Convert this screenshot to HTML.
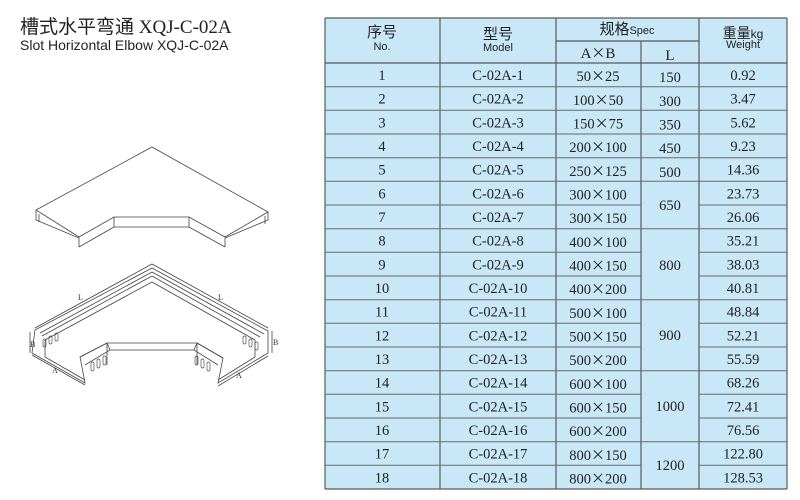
<!DOCTYPE html>
<html><head><meta charset="utf-8"><style>
html,body{margin:0;padding:0;background:#fff;width:800px;height:500px;overflow:hidden}
svg{display:block}
.t{font-family:"Liberation Serif","Noto Serif CJK SC",serif;font-size:14.5px;fill:#222;text-anchor:middle}
.h{font-family:"Liberation Sans","Noto Sans CJK SC",sans-serif;fill:#222;text-anchor:middle}
.x{font-family:"Noto Sans CJK SC",sans-serif;font-size:14px}
</style></head><body>
<svg width="800" height="500" viewBox="0 0 800 500" xmlns="http://www.w3.org/2000/svg">
<text x="20" y="33" style="font-family:'Liberation Serif','Noto Sans CJK SC',serif;font-size:19px;fill:#222">槽式水平弯通 XQJ-C-02A</text>
<text x="20" y="50" style="font-family:'Liberation Sans',sans-serif;font-size:14px;fill:#222">Slot Horizontal Elbow XQJ-C-02A</text>

<!-- cover -->
<g fill="none" stroke="#444" stroke-width="0.8">
<path d="M152,147 L268,212 L225,237 L189,217 L114,217 L79,237 L36,210 Z"/>
<path d="M268,212 L268,220 L225,238 L225,247"/>
<path d="M36,210 L36,220 L79,238 L79,247 M114,217 L114,227 L189,227 L189,217 M114,227 L79,247 M189,227 L225,247"/>
<path d="M39,214 L39,222 M265,216 L265,224"/>
</g>
<!-- tray -->
<g fill="none" stroke="#444" stroke-width="0.8">
<path d="M152,268 L268,331 L268,353 L218,383 L223,358 L197,343 L107,343 L80,357 L85,383 L32,353 L35,330 Z"/>
<path d="M152,272 L264,334 M152,282 L255,340 M152,276 L260,337 M152,272 L40,333 M152,282 L45,340 M152,276 L42,336"/>
<path d="M45,340 L45,357 L85,380 M255,340 L255,357 L218,380 M80,357 L107,343 L110,350 L85,365 M223,358 L197,343 L194,350 L218,365 M107,343 L107,365 M197,343 L197,365 M110,350 L194,350"/>
<path d="M32,355 L85,385 M218,386 L268,356 M30,332 L30,353 M272,331 L272,353 M35,328 L152,264 L268,328"/>
</g>
<g fill="none" stroke="#555" stroke-width="0.7">
<rect x="43" y="339" width="3" height="8" rx="1.5"/><rect x="49" y="336" width="3" height="8" rx="1.5"/><rect x="55" y="333" width="3" height="8" rx="1.5"/>
<rect x="243" y="336" width="3" height="8" rx="1.5"/><rect x="249" y="339" width="3" height="8" rx="1.5"/><rect x="255" y="342" width="3" height="8" rx="1.5"/>
<rect x="91" y="362" width="3" height="9" rx="1.5"/><rect x="97" y="359" width="3" height="9" rx="1.5"/><rect x="103" y="356" width="3" height="9" rx="1.5"/>
<rect x="195" y="356" width="3" height="9" rx="1.5"/><rect x="201" y="359" width="3" height="9" rx="1.5"/><rect x="207" y="362" width="3" height="9" rx="1.5"/>
</g>
<g style="font-family:'Liberation Serif',serif;font-size:8px;fill:#333">
<text x="78" y="300">L</text><text x="218" y="300">L</text><text x="30" y="347">B</text><text x="273" y="345">B</text><text x="236" y="378">A</text><text x="52" y="373">A</text>
</g>

<!-- table -->
<rect x="325" y="18" width="462" height="471" fill="#c8e7f7"/>
<g stroke="#5a5a5a" stroke-width="1.2">
<line x1="325" y1="18" x2="787" y2="18"/>
<line x1="325" y1="489" x2="787" y2="489"/>
<line x1="325" y1="18" x2="325" y2="489"/>
<line x1="787" y1="18" x2="787" y2="489"/>
<line x1="440" y1="18" x2="440" y2="489"/>
<line x1="556" y1="18" x2="556" y2="489"/>
<line x1="641" y1="41" x2="641" y2="489"/>
<line x1="699" y1="18" x2="699" y2="489"/>
<line x1="556" y1="41" x2="699" y2="41"/>
<line x1="325" y1="63" x2="787" y2="63"/>
</g>
<g stroke="#6a6a6a" stroke-width="1">
<path d="M325,86.7H641M699,86.7H787M325,110.3H641M699,110.3H787M325,134H641M699,134H787M325,157.7H641M699,157.7H787M325,181.3H641M699,181.3H787M325,205H641M699,205H787M325,228.7H641M699,228.7H787M325,252.3H641M699,252.3H787M325,276H641M699,276H787M325,299.7H641M699,299.7H787M325,323.3H641M699,323.3H787M325,347H641M699,347H787M325,370.7H641M699,370.7H787M325,394.3H641M699,394.3H787M325,418H641M699,418H787M325,441.7H641M699,441.7H787M325,465.3H641M699,465.3H787"/>
<path d="M641,86.7H699M641,110.3H699M641,134H699M641,157.7H699M641,181.3H699M641,228.7H699M641,299.7H699M641,370.7H699M641,441.7H699"/>
</g>
<text class="h" x="382" y="37" style="font-size:15px">序号</text>
<text class="h" x="382" y="50" style="font-size:11px">No.</text>
<text class="h" x="498" y="39" style="font-size:15px">型号</text>
<text class="h" x="498" y="51" style="font-size:11px">Model</text>
<text class="h" x="627" y="34" style="font-size:15px">规格<tspan style="font-size:11px">Spec</tspan></text>
<text class="t" x="598" y="58" style="font-size:15px">A<tspan class="x">×</tspan>B</text>
<text class="t" x="670" y="60" style="font-size:15px">L</text>
<text class="h" x="743" y="38" style="font-size:14px">重量<tspan style="font-size:12px">kg</tspan></text>
<text class="h" x="743" y="48" style="font-size:11px">Weight</text>

<g>
<text class="t" x="382" y="80">1</text><text class="t" x="498" y="80">C-02A-1</text><text class="t" x="598" y="81">50<tspan class="x">×</tspan>25</text><text class="t" x="670" y="82">150</text><text class="t" x="743" y="80">0.92</text>
<text class="t" x="382" y="103.7">2</text><text class="t" x="498" y="103.7">C-02A-2</text><text class="t" x="598" y="105">100<tspan class="x">×</tspan>50</text><text class="t" x="670" y="106">300</text><text class="t" x="743" y="103.7">3.47</text>
<text class="t" x="382" y="127.3">3</text><text class="t" x="498" y="127.3">C-02A-3</text><text class="t" x="598" y="128.5">150<tspan class="x">×</tspan>75</text><text class="t" x="670" y="129.5">350</text><text class="t" x="743" y="127.3">5.62</text>
<text class="t" x="382" y="151">4</text><text class="t" x="498" y="151">C-02A-4</text><text class="t" x="598" y="152">200<tspan class="x">×</tspan>100</text><text class="t" x="670" y="153">450</text><text class="t" x="743" y="151">9.23</text>
<text class="t" x="382" y="174.7">5</text><text class="t" x="498" y="174.7">C-02A-5</text><text class="t" x="598" y="176">250<tspan class="x">×</tspan>125</text><text class="t" x="670" y="177">500</text><text class="t" x="743" y="174.7">14.36</text>
<text class="t" x="382" y="198.3">6</text><text class="t" x="498" y="198.3">C-02A-6</text><text class="t" x="598" y="199.5">300<tspan class="x">×</tspan>100</text><text class="t" x="743" y="198.3">23.73</text>
<text class="t" x="382" y="222">7</text><text class="t" x="498" y="222">C-02A-7</text><text class="t" x="598" y="223">300<tspan class="x">×</tspan>150</text><text class="t" x="743" y="222">26.06</text>
<text class="t" x="670" y="210">650</text>
<text class="t" x="382" y="245.7">8</text><text class="t" x="498" y="245.7">C-02A-8</text><text class="t" x="598" y="247">400<tspan class="x">×</tspan>100</text><text class="t" x="743" y="245.7">35.21</text>
<text class="t" x="382" y="269.3">9</text><text class="t" x="498" y="269.3">C-02A-9</text><text class="t" x="598" y="270.5">400<tspan class="x">×</tspan>150</text><text class="t" x="743" y="269.3">38.03</text>
<text class="t" x="382" y="293">10</text><text class="t" x="498" y="293">C-02A-10</text><text class="t" x="598" y="294">400<tspan class="x">×</tspan>200</text><text class="t" x="743" y="293">40.81</text>
<text class="t" x="670" y="270">800</text>
<text class="t" x="382" y="316.7">11</text><text class="t" x="498" y="316.7">C-02A-11</text><text class="t" x="598" y="318">500<tspan class="x">×</tspan>100</text><text class="t" x="743" y="316.7">48.84</text>
<text class="t" x="382" y="340.3">12</text><text class="t" x="498" y="340.3">C-02A-12</text><text class="t" x="598" y="341.5">500<tspan class="x">×</tspan>150</text><text class="t" x="743" y="340.3">52.21</text>
<text class="t" x="382" y="364">13</text><text class="t" x="498" y="364">C-02A-13</text><text class="t" x="598" y="365">500<tspan class="x">×</tspan>200</text><text class="t" x="743" y="364">55.59</text>
<text class="t" x="670" y="340">900</text>
<text class="t" x="382" y="387.7">14</text><text class="t" x="498" y="387.7">C-02A-14</text><text class="t" x="598" y="389">600<tspan class="x">×</tspan>100</text><text class="t" x="743" y="387.7">68.26</text>
<text class="t" x="382" y="411.3">15</text><text class="t" x="498" y="411.3">C-02A-15</text><text class="t" x="598" y="412.5">600<tspan class="x">×</tspan>150</text><text class="t" x="743" y="411.3">72.41</text>
<text class="t" x="382" y="435">16</text><text class="t" x="498" y="435">C-02A-16</text><text class="t" x="598" y="436">600<tspan class="x">×</tspan>200</text><text class="t" x="743" y="435">76.56</text>
<text class="t" x="670" y="411">1000</text>
<text class="t" x="382" y="458.7">17</text><text class="t" x="498" y="458.7">C-02A-17</text><text class="t" x="598" y="460">800<tspan class="x">×</tspan>150</text><text class="t" x="743" y="458.7">122.80</text>
<text class="t" x="382" y="482.3">18</text><text class="t" x="498" y="482.3">C-02A-18</text><text class="t" x="598" y="483.5">800<tspan class="x">×</tspan>200</text><text class="t" x="743" y="482.3">128.53</text>
<text class="t" x="670" y="470">1200</text>
</g>
</svg>
</body></html>
